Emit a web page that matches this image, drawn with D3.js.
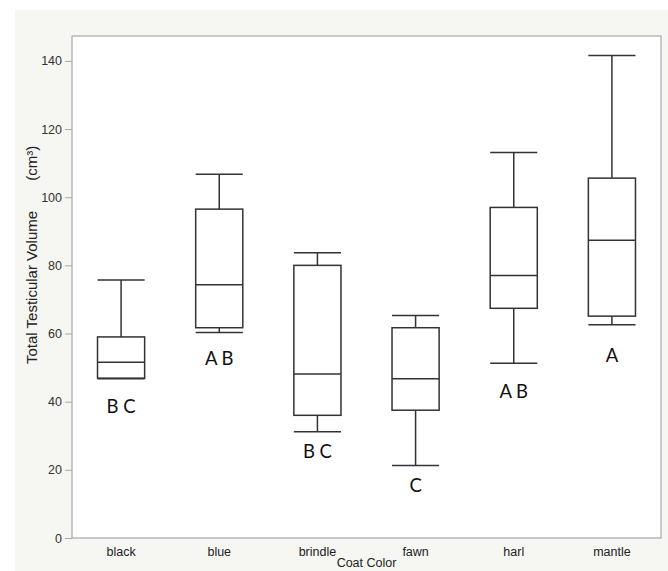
<!DOCTYPE html>
<html>
<head>
<meta charset="utf-8">
<script src="https://cdn.jsdelivr.net/npm/d3@7"></script>
<style>
  body { margin: 0; background: #fff; }
  svg { display: block; }
  .tick text { font-family: "Liberation Sans", Arial, sans-serif; }
</style>
</head>
<body>
<div id="vis"></div>
<script>
const categories = ['black', 'blue', 'brindle', 'fawn', 'harl', 'mantle']
const whiskerLow = [46.7, 60.3, 31.2, 21.3, 51.3, 62.6]
const quart1 = [46.9, 61.7, 36.0, 37.5, 67.4, 65.1]
const medians = [51.6, 74.3, 48.1, 46.7, 77.0, 87.4]
const quart3 = [59.0, 96.5, 80.0, 61.7, 97.0, 105.6]
const whiskerHigh = [75.7, 106.7, 83.7, 65.3, 113.1, 141.6]
const letters = ['B C', 'A B', 'B C', 'C', 'A B', 'A']
const letterPos = [38.7, 52.7, 25.4, 15.5, 43.0, 53.7]
const yTicks = [0, 20, 40, 60, 80, 100, 120, 140]

const W = 668, H = 571
const margin = {top: 36, right: 7, bottom: 33, left: 72}
const width = W - margin.left - margin.right
const height = H - margin.top - margin.bottom

const boxes = categories.map((c, i) => ({
    cat: c, lo: whiskerLow[i], q1: quart1[i], med: medians[i],
    q3: quart3[i], hi: whiskerHigh[i], letter: letters[i], ly: letterPos[i]
}))

const root = d3.select('#vis').append('svg')
    .attr('width', W)
    .attr('height', H)

// light panel behind the plot
root.append('rect')
    .attr('x', 15).attr('y', 10)
    .attr('width', W - 15).attr('height', H - 10)
    .attr('fill', '#f6f6f2')

const svg = root.append('g')
    .attr('transform', `translate(${margin.left},${margin.top})`)

svg.append('rect')
    .attr('width', width).attr('height', height)
    .attr('fill', '#fff')
    .attr('stroke', '#a9a9a9')
    .attr('stroke-width', 1.2)

let xScale = d3.scaleBand()
    .domain(categories)
    .range([0, width])
let yScale = d3.scaleLinear()
    .domain([0, 147.3])
    .range([height, 0])

let yAxis = svg.append('g')
    .call(d3.axisLeft(yScale).tickValues(yTicks).tickSize(7).tickPadding(3))
yAxis.select('.domain').remove()
yAxis.selectAll('line').attr('stroke', '#a9a9a9')
yAxis.selectAll('text').attr('fill', '#333').style('font-size', '12.5px')

let xAxis = svg.append('g')
    .attr('transform', `translate(0,${height})`)
    .call(d3.axisBottom(xScale).tickSize(0).tickPadding(9))
xAxis.select('.domain').remove()
xAxis.selectAll('text').attr('fill', '#222').style('font-size', '12.5px')

svg.append('text')
    .attr('x', width / 2)
    .attr('y', height + 29)
    .attr('text-anchor', 'middle')
    .style('font-family', '"Liberation Sans", Arial, sans-serif')
    .style('font-size', '12.5px')
    .attr('fill', '#222')
    .text('Coat Color')

let yLabel = svg.append('text')
    .attr('transform', `translate(${37 - margin.left},${364 - margin.top}) rotate(-90)`)
    .attr('text-anchor', 'start')
    .style('font-family', '"Liberation Sans", Arial, sans-serif')
    .style('font-size', '15px')
    .attr('fill', '#222')
yLabel.append('tspan').text('Total Testicular Volume')
yLabel.append('tspan').attr('dx', 30).text('(cm³)')

const bw = xScale.bandwidth() * 0.48
const cx = d => xScale(d.cat) + xScale.bandwidth() / 2

const g = svg.selectAll('.box')
    .data(boxes)
    .join('g')
    .attr('class', 'box')
    .attr('stroke', '#333')
    .attr('stroke-width', 1.5)
    .attr('fill', 'none')

// whiskers
g.append('line')
    .attr('x1', cx).attr('x2', cx)
    .attr('y1', d => yScale(d.hi)).attr('y2', d => yScale(d.q3))
g.append('line')
    .attr('x1', cx).attr('x2', cx)
    .attr('y1', d => yScale(d.q1)).attr('y2', d => yScale(d.lo))
g.append('line')
    .attr('x1', d => cx(d) - bw / 2).attr('x2', d => cx(d) + bw / 2)
    .attr('y1', d => yScale(d.hi)).attr('y2', d => yScale(d.hi))
g.append('line')
    .attr('x1', d => cx(d) - bw / 2).attr('x2', d => cx(d) + bw / 2)
    .attr('y1', d => yScale(d.lo)).attr('y2', d => yScale(d.lo))

g.append('rect')
    .attr('x', d => cx(d) - bw / 2)
    .attr('y', d => yScale(d.q3))
    .attr('width', bw)
    .attr('height', d => yScale(d.q1) - yScale(d.q3))

g.append('line')
    .attr('x1', d => cx(d) - bw / 2).attr('x2', d => cx(d) + bw / 2)
    .attr('y1', d => yScale(d.med)).attr('y2', d => yScale(d.med))

svg.selectAll('.letter')
    .data(boxes)
    .join('text')
    .attr('class', 'letter')
    .attr('x', cx)
    .attr('y', d => yScale(d.ly))
    .attr('dy', '0.36em')
    .attr('text-anchor', 'middle')
    .style('font-family', 'Lato, sans-serif')
    .style('font-size', '18.5px')
    .attr('fill', '#111')
    .text(d => d.letter)
</script>
</body>
</html>
